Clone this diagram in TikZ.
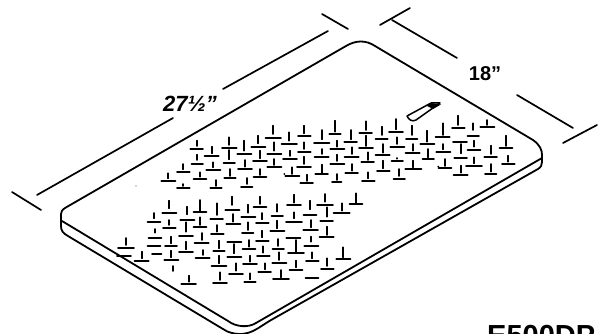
\documentclass[tikz,border=0pt]{standalone}
\usepackage{fontspec}
\setmainfont{Liberation Sans}
\tikzset{
  outline/.style={line width=1.8pt,line cap=round,line join=round,black},
  dimline/.style={line width=1.7pt,line cap=round,black},
  tbar/.style={line width=1.9pt,line cap=round,black},
  tstem/.style={line width=1.7pt,line cap=round,black},
  plabel/.style={inner sep=0pt,font=\bfseries\fontsize{20}{20}\selectfont,black}
}
\newcommand{\tmarks}[1]{\foreach \cx/\by/\w/\st/\sb in {#1}{
  \draw[tbar] ({\cx-\w/2+1},\by) -- ({\cx+\w/2-1},\by);
  \draw[tstem] (\cx,\st+2) -- (\cx,\sb);}}
\newcommand{\barsonly}[1]{\foreach \cx/\by/\w in {#1}{
  \draw[tbar] ({\cx-\w/2+1},\by) -- ({\cx+\w/2-1},\by);}}
\begin{document}
\begin{tikzpicture}[x=1pt,y=-1pt]
\useasboundingbox (0,0) rectangle (605,334);
\clip (0,0) rectangle (605,334);
% plate
\draw[outline] (65,208) -- (346,46) .. controls (356,40) and (366,40) .. (375,46)
  -- (533,140) .. controls (540,145) and (542,150) .. (542,155)
  -- (542,162) .. controls (542,165) and (541,167) .. (538,169) -- (272,319.5)
  .. controls (257,328) and (250,337) .. (232,333) .. controls (228,332) and (226,331) .. (223,329)
  -- (68,236) .. controls (63,233) and (61,231) .. (61,226) -- (61,214)
  .. controls (61,212) and (62,210) .. (65,208);
\draw[outline] (62,221) -- (228,321) .. controls (236,327) and (248,328) .. (256,323) -- (542,158);
% slot
\draw[outline,line width=1.5pt] (407,116) -- (431,103) -- (440,103) -- (416,120) .. controls (412,122) and (409,120) .. (407,116);
\fill[black] (431,103) -- (441,104.5) -- (433,109) -- (427,106) -- cycle;
% dimension lines
\draw[dimline] (322,14) -- (348,29);
\draw[dimline] (328,31) -- (223,89);
\draw[dimline] (173,118) -- (37,195);
\draw[dimline] (12,192) -- (41,210);
\draw[dimline] (380,25) -- (410,8);
\draw[dimline] (392,20) -- (457,58);
\draw[dimline] (517,95) -- (573,128);
\draw[dimline] (563,143) -- (597,125);
% labels
\node[plabel,font=\bfseries\itshape\fontsize{22}{22}\selectfont,anchor=center] (long) at (190,104) {27½"};
\node[plabel,anchor=center] (short) at (485,74) {18"};
\node[inner sep=0pt,anchor=base west,font=\bfseries\fontsize{29}{29}\selectfont,black] (model) at (487,345) {E500DP};
% stray specks
\fill[black!70] (136,186) circle (0.7pt);
% lower patch
\begin{scope}[shift={(100,180)},x=0.33333pt,y=-0.33333pt]
\tmarks{208/100/44/60/85, 262/120/44/78/103, 300/97/40/58/92, 350/118/40/68/105, 397/90/44/48/75,
 445/112/44/72/98, 480/80/40/48/72, 532/108/36/70/95, 582/75/44/42/68, 630/105/40/60/88,
 675/75/50/40/65, 725/98/50/68/92, 768/72/40/38/68,
 162/127/40/97/115, 208/145/40/118/135, 300/140/40/110/135, 400/133/44/100/125, 487/128/40/97/118,
 582/125/50/95/115, 680/122/40/80/110, 352/163/40/133/155, 165/173/40/145/158, 258/168/44/125/155,
 443/160/36/125/150, 487/183/40/150/172, 532/153/44/120/145, 632/150/46/118/142, 680/172/44/138/165,
 213/198/38/168/190, 305/190/44/157/180, 258/217/44/183/208, 357/214/36/180/205, 447/208/40/178/200,
 535/207/36/175/198, 634/198/44/168/185, 78/203/50/172/195, 125/243/44/213/235, 214/240/44/210/232,
 308/235/44/208/225, 357/258/46/225/250, 403/232/44/190/220, 450/252/44/225/245, 490/228/40/197/218,
 538/248/44/215/240, 637/242/40/215/235, 730/238/44/200/232, 682/267/40/233/258, 588/270/40/240/262,
 494/277/40/248/268, 588/220/50/178/215, 266/312/46/285/305, 360/308/44/275/300, 408/282/44/248/272,
 450/305/36/278/298, 543/298/50/268/292}
\barsonly{162/198/40, 403/187/44, 580/173/44, 72/228/44, 170/222/30, 636/295/40}
\draw[tstem] (218,258) -- (218,273);
\end{scope}
% upper patch
\begin{scope}[shift={(150,80)},x=0.33333pt,y=-0.33333pt]
\tmarks{140/208/40/180/198, 185/228/44/198/220, 283/222/44/180/212, 325/200/44/165/190, 370/175/48/135/162,
 418/193/48/155/182, 463/168/40/135/160, 515/190/48/148/178, 555/163/36/120/155, 602/187/40/148/178,
 647/160/40/122/150, 695/178/38/138/165, 738/155/44/115/148, 785/178/36/135/165, 832/193/44/150/185,
 878/172/44/128/165, 925/145/40/105/135, 970/168/36/128/150, 1012/140/44/118/135,
 142/253/36/222/240, 190/270/44/245/262, 238/248/36/210/238, 285/268/44/238/260, 330/243/44/210/235,
 373/222/44/185/212, 373/262/44/235/255, 420/238/44/210/228, 463/215/40/185/207, 515/232/44/205/222,
 562/208/44/180/200, 562/253/44/222/243, 605/230/44/200/222, 648/205/44/165/198, 653/247/40/215/240,
 698/225/44/190/218, 742/200/44/170/192, 742/243/36/232/236, 788/220/44/190/212, 835/238/36/205/232,
 880/215/44/190/208, 972/210/40/180/200, 1022/230/40/195/222, 1068/205/40/165/198, 1075/252/40/225/245,
 972/258/50/230/250, 885/265/40/235/258, 1022/282/36/250/275, 932/285/44/255/278, 790/268/50/240/262,
 748/296/36/265/288, 700/272/40/240/265, 655/302/40/275/295, 605/280/40/250/272, 560/305/30/280/300,
 515/283/40/252/278, 470/310/40/282/303, 462/260/44/228/252, 427/288/44/260/282, 55/303/44/278/295,
 100/325/40/310/318, 100/275/40/250/268, 150/297/40/275/290, 198/325/36/298/318, 240/295/36/265/288,
 290/320/36/292/312, 330/292/40/265/285, 238/205/46/170/195, 932/235/40/190/220}
\barsonly{930/185/44}
\draw[tstem] (238,210) -- (238,235);
\fill[black] (865,260) circle (1pt);
\fill[black] (403,282) circle (1pt);
\end{scope}
\end{tikzpicture}
\end{document}
